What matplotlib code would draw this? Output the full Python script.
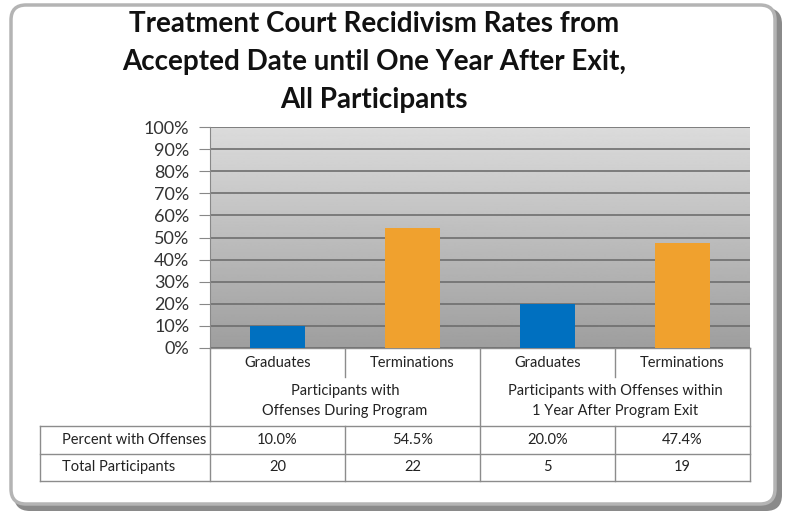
import numpy as np
import matplotlib.pyplot as plt
from matplotlib.patches import FancyBboxPatch

# data
categories = ["Graduates", "Terminations", "Graduates", "Terminations"]
groups = ["Participants with\nOffenses During Program",
          "Participants with Offenses within\n1 Year After Program Exit"]
pct_offenses = [10.0, 54.5, 20.0, 47.4]
total_participants = [20, 22, 5, 19]
bar_colors = ["#0070C0", "#F0A12E", "#0070C0", "#F0A12E"]
row_labels = ["Percent with Offenses", "Total Participants"]

W, H = 785, 515
plt.rcParams['font.family'] = ['Lato', 'DejaVu Sans']
fig = plt.figure(figsize=(W / 100, H / 100), dpi=100)

# overlay in pixel coordinates for frame and table
ov = fig.add_axes([0, 0, 1, 1])
ov.set_xlim(0, W)
ov.set_ylim(H, 0)
ov.axis('off')

# shadow + frame
ov.add_patch(FancyBboxPatch((14, 8), 768, 503, boxstyle="round,pad=0,rounding_size=16",
                            fc="#8a8a8a", ec="none", zorder=0))
ov.add_patch(FancyBboxPatch((11, 5), 764, 499, boxstyle="round,pad=0,rounding_size=15",
                            fc="white", ec="#b4b4b4", lw=2.5, zorder=1))

# title
title_lines = ["Treatment Court Recidivism Rates from",
               "Accepted Date until One Year After Exit,",
               "All Participants"]
for ty, t in zip([24, 62, 100], title_lines):
    ov.text(374, ty, t, ha='center', va='center', fontsize=20, fontweight='bold',
            color="#111111", zorder=5)

# chart axes
x0, x1, y0, y1 = 210, 750, 127, 348
ax = fig.add_axes([x0 / W, 1 - y1 / H, (x1 - x0) / W, (y1 - y0) / H])
ax.set_zorder(3)
grad = np.linspace(0.62, 0.86, 256).reshape(-1, 1)
ax.imshow(grad, cmap='gray', vmin=0, vmax=1, aspect='auto', origin='lower',
          extent=[-0.5, 3.5, 0, 100], zorder=0)
x = np.arange(len(categories))
ax.bar(x, pct_offenses, width=0.41, color=bar_colors, zorder=3)
ax.set_xlim(-0.5, 3.5)
ax.set_ylim(0, 100)
ax.set_yticks(np.arange(0, 101, 10))
ax.set_yticklabels([f"{v}%" for v in range(0, 101, 10)], fontsize=13, color="#333333")
ax.yaxis.grid(True, color="#6e6e6e", lw=1.2, zorder=1)
ax.set_axisbelow(True)
ax.tick_params(axis='y', length=8, color="#888888", pad=7)
ax.set_xticks([])
for s in ['top', 'right', 'bottom']:
    ax.spines[s].set_visible(False)
ax.spines['left'].set_color("#888888")

# table lines
lc = "#8c8c8c"
col_w = (x1 - x0) / 4
cols = [x0 + i * col_w for i in range(5)]
ov.plot([x0, x1], [y1, y1], color=lc, lw=1)
ov.plot([40, x1], [426, 426], color=lc, lw=1)
ov.plot([40, x1], [454, 454], color=lc, lw=1)
ov.plot([40, x1], [481, 481], color=lc, lw=1)
ov.plot([40, 40], [426, 481], color=lc, lw=1)
for i, cx in enumerate(cols):
    if i in (1, 3):
        ov.plot([cx, cx], [y1, 377], color=lc, lw=1)
        ov.plot([cx, cx], [426, 481], color=lc, lw=1)
    else:
        ov.plot([cx, cx], [y1, 481], color=lc, lw=1)

tfs = 10.5
for i, c in enumerate(categories):
    ov.text(cols[i] + col_w / 2, 363, c, ha='center', va='center', fontsize=tfs, color="#222222")
    ov.text(cols[i] + col_w / 2, 440, f"{pct_offenses[i]:.1f}%", ha='center', va='center',
            fontsize=tfs, color="#222222")
    ov.text(cols[i] + col_w / 2, 467, str(total_participants[i]), ha='center', va='center',
            fontsize=tfs, color="#222222")
for j, g in enumerate(groups):
    ov.text(cols[2 * j] + col_w, 401, g, ha='center', va='center', fontsize=tfs,
            color="#222222", linespacing=1.5)
ov.text(62, 440, row_labels[0], ha='left', va='center', fontsize=tfs, color="#222222")
ov.text(62, 467, row_labels[1], ha='left', va='center', fontsize=tfs, color="#222222")

fig.savefig("out.png", dpi=100)
